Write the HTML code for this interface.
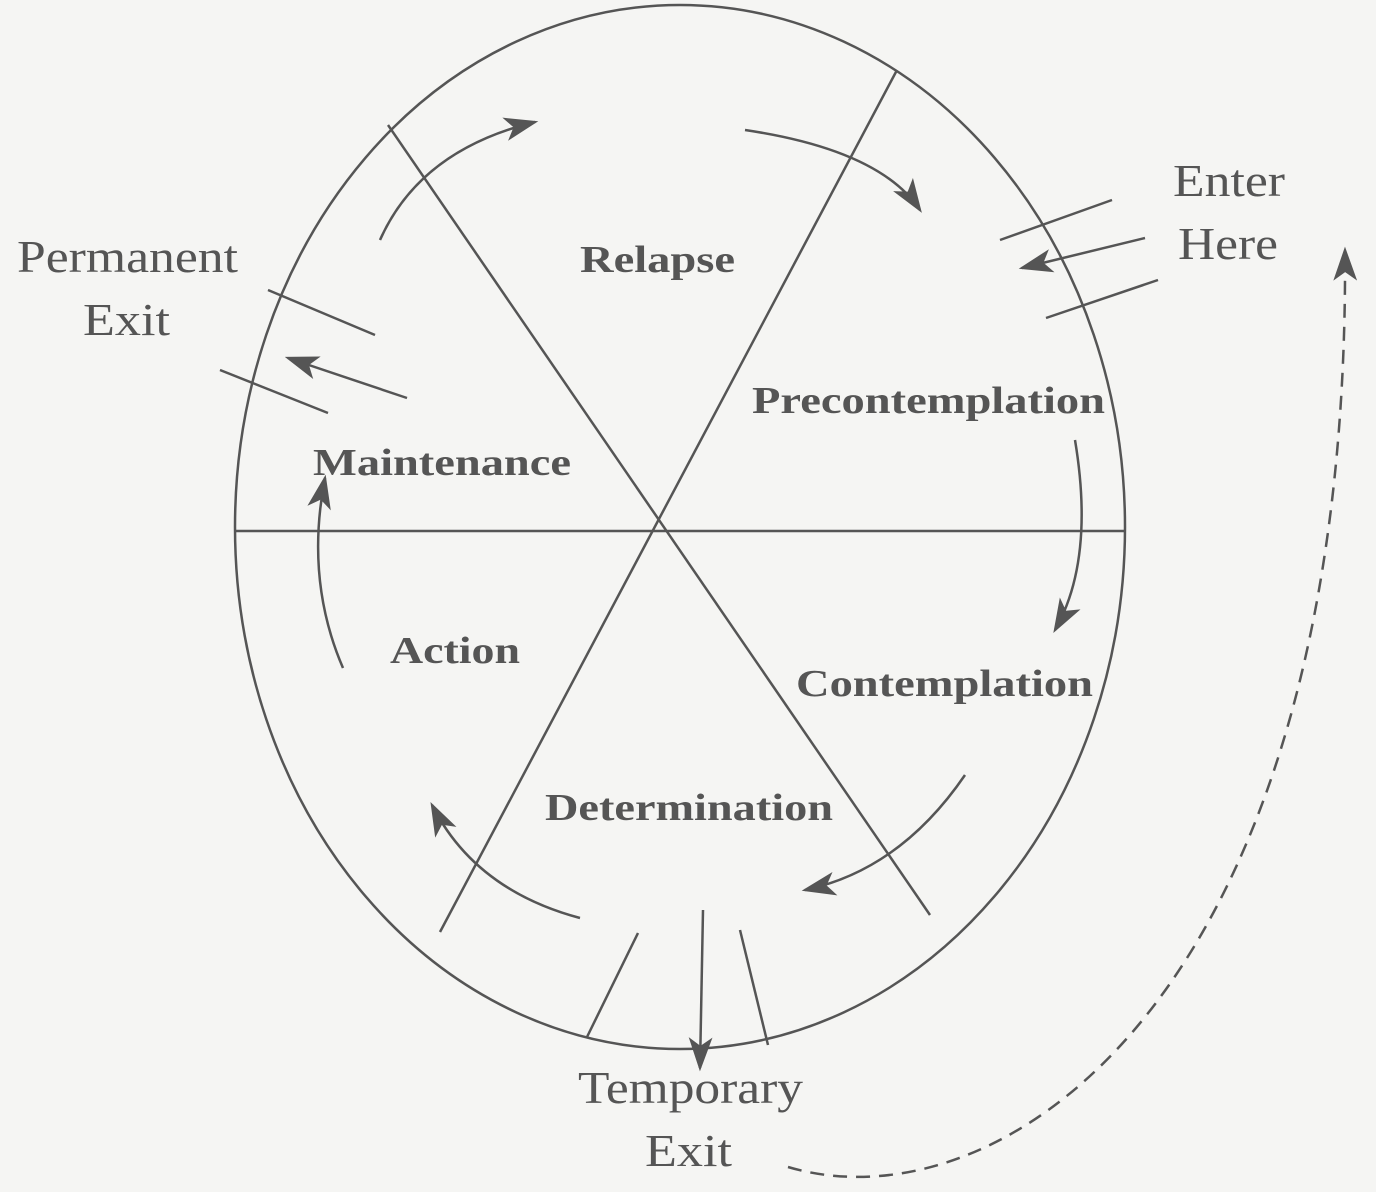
<!DOCTYPE html>
<html><head><meta charset="utf-8"><style>
html,body{margin:0;padding:0;background:#f5f5f3;}
svg{display:block;}
.lab{font-family:"Liberation Serif",serif;font-weight:bold;font-size:38px;fill:#555;}
.out{font-family:"Liberation Serif",serif;font-size:46px;fill:#555;}
</style></head><body>
<svg width="1376" height="1192" viewBox="0 0 1376 1192" xmlns="http://www.w3.org/2000/svg">
<defs>
<marker id="ah" markerWidth="10" markerHeight="8" refX="9" refY="4" orient="auto" markerUnits="userSpaceOnUse" viewBox="0 0 10 8">
</marker>
<marker id="a" viewBox="0 0 20 14" refX="18" refY="7" markerWidth="34" markerHeight="24" orient="auto" markerUnits="userSpaceOnUse">
<path d="M0,0 L20,7 L0,14 L5,7 Z" fill="#555"/>
</marker>
</defs>
<rect width="1376" height="1192" fill="#f5f5f3"/>
<g stroke="#555" stroke-width="2.5" fill="none">
<ellipse cx="680" cy="527" rx="445" ry="522"/>
<line x1="235" y1="531" x2="1125" y2="531"/>
<line x1="388" y1="125" x2="930" y2="915"/>
<line x1="897" y1="70" x2="440" y2="932"/>
<!-- cycle arrows -->
<path d="M380,240 Q420,150 535,122" marker-end="url(#a)"/>
<path d="M745,130 Q880,150 920,210" marker-end="url(#a)"/>
<path d="M1075,440 Q1095,560 1055,630" marker-end="url(#a)"/>
<path d="M965,775 Q900,870 805,890" marker-end="url(#a)"/>
<path d="M580,918 Q475,890 432,805" marker-end="url(#a)"/>
<path d="M343,668 Q305,580 325,478" marker-end="url(#a)"/>
<!-- enter -->
<line x1="1145" y1="238" x2="1022" y2="268" marker-end="url(#a)"/>
<line x1="1000" y1="240" x2="1112" y2="200"/>
<line x1="1046" y1="318" x2="1158" y2="280"/>
<!-- permanent exit -->
<line x1="407" y1="398" x2="288" y2="358" marker-end="url(#a)"/>
<line x1="268" y1="290" x2="375" y2="335"/>
<line x1="220" y1="370" x2="328" y2="413"/>
<!-- temporary exit -->
<line x1="703" y1="910" x2="700" y2="1068" marker-end="url(#a)"/>
<line x1="638" y1="933" x2="587" y2="1037"/>
<line x1="740" y1="930" x2="768" y2="1045"/>
<!-- dashed return -->
<path d="M788,1167 C1000,1230 1350,1000 1345,250" stroke-dasharray="14,9" marker-end="url(#a)"/>
</g>
<text class="lab" x="580" y="272" textLength="155" lengthAdjust="spacingAndGlyphs">Relapse</text>
<text class="lab" x="752" y="413" textLength="353" lengthAdjust="spacingAndGlyphs">Precontemplation</text>
<text class="lab" x="313" y="475" textLength="258" lengthAdjust="spacingAndGlyphs">Maintenance</text>
<text class="lab" x="390" y="663" textLength="130" lengthAdjust="spacingAndGlyphs">Action</text>
<text class="lab" x="796" y="696" textLength="297" lengthAdjust="spacingAndGlyphs">Contemplation</text>
<text class="lab" x="545" y="820" textLength="288" lengthAdjust="spacingAndGlyphs">Determination</text>
<text class="out" x="17" y="272" textLength="221" lengthAdjust="spacingAndGlyphs">Permanent</text>
<text class="out" x="83" y="335" textLength="87" lengthAdjust="spacingAndGlyphs">Exit</text>
<text class="out" x="1173" y="196" textLength="112" lengthAdjust="spacingAndGlyphs">Enter</text>
<text class="out" x="1178" y="259" textLength="100" lengthAdjust="spacingAndGlyphs">Here</text>
<text class="out" x="578" y="1103" textLength="225" lengthAdjust="spacingAndGlyphs">Temporary</text>
<text class="out" x="645" y="1166" textLength="87" lengthAdjust="spacingAndGlyphs">Exit</text>
</svg>
</body></html>
